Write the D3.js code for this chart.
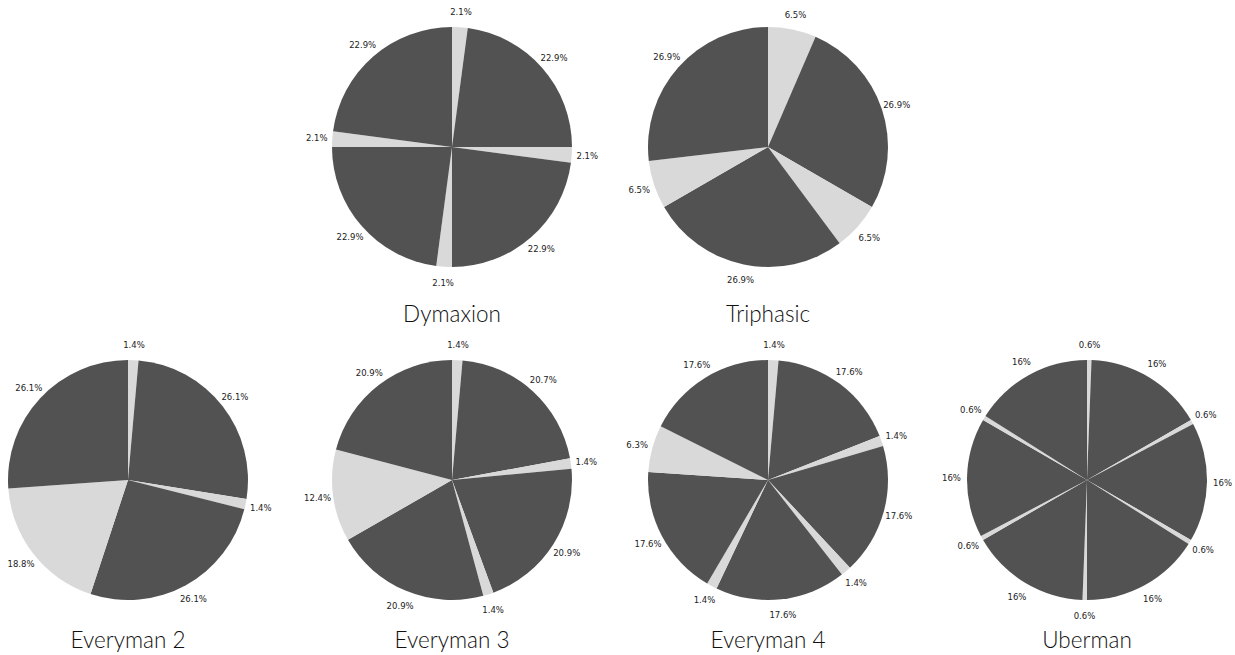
<!DOCTYPE html>
<html>
<head>
<meta charset="utf-8">
<script src="https://cdn.jsdelivr.net/npm/d3@7"></script>
<style>
  body { margin: 0; background: #fff; }
  svg { display: block; }
</style>
</head>
<body>
<svg id="chart" width="1235" height="655"></svg>
<script>
// sleep schedules, share of the day (light = sleep, dark = awake)
var names = ["Dymaxion", "Triphasic", "Everyman 2", "Everyman 3", "Everyman 4", "Uberman"];
var dymaxion = [2.1, 22.9, 2.1, 22.9, 2.1, 22.9, 2.1, 22.9];
var triphasic = [6.5, 26.9, 6.5, 26.9, 6.5, 26.9];
var everyman2 = [1.4, 26.1, 1.4, 26.1, 18.8, 26.1];
var everyman3 = [1.4, 20.7, 1.4, 20.9, 1.4, 20.9, 12.4, 20.9];
var everyman4 = [1.4, 17.6, 1.4, 17.6, 1.4, 17.6, 1.4, 17.6, 6.3, 17.6];
var uberman = [0.6, 16, 0.6, 16, 0.6, 16, 0.6, 16, 0.6, 16, 0.6, 16];

var series = [dymaxion, triphasic, everyman2, everyman3, everyman4, uberman];

// grid placement
var rows = [0, 0, 1, 1, 1, 1];
var cols = [1, 2, 0, 1, 2, 3];
var colX = [128, 452, 768, 1087];
var rowY = [147, 480];
var radius = 120;

var svg = d3.select('#chart');

var pie = d3.pie().sort(null).value(function(d){ return d; });
var arc = d3.arc().innerRadius(0).outerRadius(radius);

series.forEach(function(values, i){
    var cx = colX[cols[i]];
    var cy = rowY[rows[i]];
    var g = svg.append("g").attr("transform", "translate(" + cx + "," + cy + ")");

    var arcs = pie(values);

    g.selectAll("path")
        .data(arcs)
        .enter().append("path")
        .attr("d", arc)
        .attr("fill", function(d, j){ return j % 2 === 0 ? '#d9d9d9' : '#525252'; });

    var labelR = radius * 1.13;
    g.selectAll("text.pct")
        .data(arcs)
        .enter().append("text")
        .attr("class", "pct")
        .attr("x", function(d){ return Math.sin((d.startAngle + d.endAngle) / 2) * labelR; })
        .attr("y", function(d){ return -Math.cos((d.startAngle + d.endAngle) / 2) * labelR; })
        .attr("dy", "0.4em")
        .style("text-anchor", "middle")
        .style("font-family", "DejaVu Sans, sans-serif")
        .style("font-size", "8.5px")
        .style("fill", "#222")
        .text(function(d){ return d.data + "%"; });

    g.append("text")
        .attr("x", 0)
        .attr("y", rows[i] === 0 ? 175 : 168)
        .style("text-anchor", "middle")
        .style("font-family", "Lato, sans-serif")
        .style("font-weight", 300)
        .style("font-size", "22.5px")
        .style("fill", "#111")
        .text(names[i]);
});
</script>
</body>
</html>
